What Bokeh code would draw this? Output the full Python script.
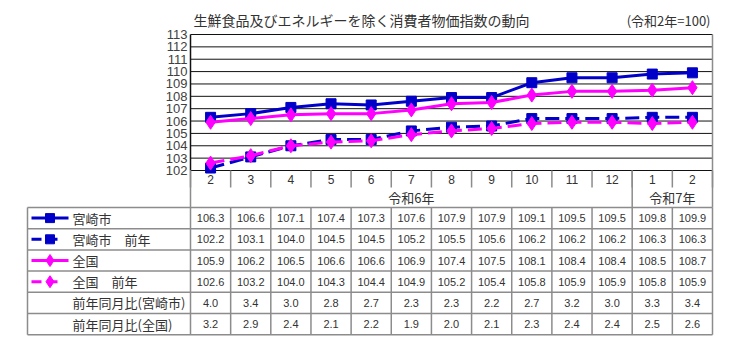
from bokeh.plotting import figure
from bokeh.models import Range1d
from bokeh.embed import file_html
from bokeh.resources import INLINE
from bokeh.core.properties import value

# ---- data ----
months = ["2", "3", "4", "5", "6", "7", "8", "9", "10", "11", "12", "1", "2"]
eras = ["令和6年", "令和7年"]
era_span = [(0, 10), (11, 12)]
miyazaki = [106.3, 106.6, 107.1, 107.4, 107.3, 107.6, 107.9, 107.9, 109.1, 109.5, 109.5, 109.8, 109.9]
miyazaki_prev = [102.2, 103.1, 104.0, 104.5, 104.5, 105.2, 105.5, 105.6, 106.2, 106.2, 106.2, 106.3, 106.3]
national = [105.9, 106.2, 106.5, 106.6, 106.6, 106.9, 107.4, 107.5, 108.1, 108.4, 108.4, 108.5, 108.7]
national_prev = [102.6, 103.2, 104.0, 104.3, 104.4, 104.9, 105.2, 105.4, 105.8, 105.9, 105.9, 105.8, 105.9]
yoy_miyazaki = [4.0, 3.4, 3.0, 2.8, 2.7, 2.3, 2.3, 2.2, 2.7, 3.2, 3.0, 3.3, 3.4]
yoy_national = [3.2, 2.9, 2.4, 2.1, 2.2, 1.9, 2.0, 2.1, 2.3, 2.4, 2.4, 2.5, 2.6]
row_labels = ["宮崎市", "宮崎市　前年", "全国", "全国　前年", "前年同月比(宮崎市)", "前年同月比(全国)"]
title_text = "生鮮食品及びエネルギーを除く消費者物価指数の動向"
base_text = "(令和2年=100)"
y_ticks = list(range(102, 114))
y_min, y_max = 102, 113

BLUE = "#0000C8"
MAG = "#FF00FF"
GRAY = "#8c8c8c"
TXT = "#333333"
JP = value("Noto Sans CJK JP")
NUM = value("Liberation Sans")

n = len(months)
xs = list(range(n))

# ---- geometry (figure pixels) ----
W, H = 721, 351
CL, CR, CT, CB = 190, 712, 34, 170      # chart area
colw = (CR - CL) / n
ppu = (CB - CT) / (y_max - y_min)


def cx(px):
    return -0.5 + (px - CL) / colw


def cy(py):
    return y_max - (py - CT) / ppu


p = figure(width=W, height=H, output_backend="svg", toolbar_location=None,
           x_range=Range1d(cx(0), cx(W)), y_range=Range1d(cy(H), cy(0)),
           min_border=0, min_border_left=0, min_border_right=0,
           min_border_top=0, min_border_bottom=0)
p.axis.visible = False
p.grid.grid_line_color = None
p.outline_line_color = None
p.background_fill_color = "white"
p.border_fill_color = "white"

x_left_edge, x_right_edge = -0.5, n - 0.5

# ---- chart frame & grid ----
p.segment(x0=[x_left_edge] * len(y_ticks), y0=y_ticks, x1=[x_right_edge] * len(y_ticks),
          y1=y_ticks, line_color="#111111", line_width=1)
p.segment(x0=[x_right_edge], y0=[y_min], x1=[x_right_edge], y1=[y_max],
          line_color=GRAY, line_width=1.5)
p.segment(x0=[x_left_edge], y0=[y_min], x1=[x_left_edge], y1=[y_max],
          line_color="#111111", line_width=1.5)
p.text(x=[cx(187)] * len(y_ticks), y=y_ticks, text=[str(t) for t in y_ticks],
       text_font=NUM, text_font_size="13px", text_color="#404040",
       text_align="right", text_baseline="middle")

# ---- series ----
p.line(xs, miyazaki_prev, line_color=BLUE, line_width=3, line_dash="14 6")
p.scatter(xs, miyazaki_prev, marker="square", size=10, fill_color=BLUE, line_color=BLUE)
p.line(xs, national_prev, line_color=MAG, line_width=3, line_dash="14 6")
p.scatter(xs, national_prev, marker="diamond", size=14, fill_color=MAG, line_color=MAG)
p.line(xs, miyazaki, line_color=BLUE, line_width=3)
p.scatter(xs, miyazaki, marker="square", size=10, fill_color=BLUE, line_color=BLUE)
p.line(xs, national, line_color=MAG, line_width=3)
p.scatter(xs, national, marker="diamond", size=14, fill_color=MAG, line_color=MAG)

# ---- titles ----
p.text(x=[cx(193)], y=[cy(19.5)], text=[title_text], text_font=JP, text_font_size="14px",
       text_color=TXT, text_align="left", text_baseline="middle")
p.text(x=[cx(710)], y=[cy(20)], text=[base_text], text_font=JP, text_font_size="13px",
       text_color=TXT, text_align="right", text_baseline="middle")

# ---- category axis area ----
edges = [i - 0.5 for i in range(n + 1)]
p.segment(x0=edges, y0=[cy(CB)] * len(edges), x1=edges, y1=[cy(CB + 17)] * len(edges),
          line_color=GRAY, line_width=1.5)
top = 207
full = [edges[0], edges[era_span[1][0]], edges[-1]]
p.segment(x0=full, y0=[cy(CB)] * 3, x1=full, y1=[cy(top)] * 3, line_color=GRAY, line_width=1.5)
p.text(x=xs, y=[cy(178.5)] * n, text=months, text_font=NUM, text_font_size="12px",
       text_color=TXT, text_align="center", text_baseline="middle")
p.text(x=[(a + b) / 2 for a, b in era_span], y=[cy(197)] * len(eras), text=eras,
       text_font=JP, text_font_size="13px", text_color=TXT,
       text_align="center", text_baseline="middle")

# ---- table ----
rh = 21.2
nrows = len(row_labels)
bottom = top + rh * nrows
left = cx(27)
vx = edges + [left]
p.segment(x0=vx, y0=[cy(top)] * len(vx), x1=vx, y1=[cy(bottom)] * len(vx),
          line_color=GRAY, line_width=1.5)
hy = [cy(top + rh * i) for i in range(nrows + 1)]
p.segment(x0=[left] * len(hy), y0=hy, x1=[edges[-1]] * len(hy), y1=hy,
          line_color=GRAY, line_width=1.5)

rows = [miyazaki, miyazaki_prev, national, national_prev, yoy_miyazaki, yoy_national]
for r, vals in enumerate(rows):
    yc = cy(top + rh * (r + 0.5))
    p.text(x=xs, y=[yc] * n, text=[f"{v:.1f}" for v in vals], text_font=NUM,
           text_font_size="11px", text_color=TXT, text_align="center",
           text_baseline="middle")
    p.text(x=[cx(72)], y=[yc], text=[row_labels[r]], text_font=JP, text_font_size="13px",
           text_color=TXT, text_align="left", text_baseline="middle")

# ---- legend keys ----
ly = [cy(top + rh * (r + 0.5)) for r in range(4)]
k0, k1, km, kd = cx(31), cx(68), cx(49.5), cx(60)
p.segment(x0=[k0], y0=[ly[0]], x1=[k1], y1=[ly[0]], line_color=BLUE, line_width=3)
p.scatter([km], [ly[0]], marker="square", size=9, fill_color=BLUE, line_color=BLUE)
p.segment(x0=[k0], y0=[ly[1]], x1=[kd], y1=[ly[1]], line_color=BLUE, line_width=3,
          line_dash="10 6")
p.scatter([km], [ly[1]], marker="square", size=9, fill_color=BLUE, line_color=BLUE)
p.segment(x0=[k0], y0=[ly[2]], x1=[k1], y1=[ly[2]], line_color=MAG, line_width=3)
p.scatter([km], [ly[2]], marker="diamond", size=12, fill_color=MAG, line_color=MAG)
p.segment(x0=[k0], y0=[ly[3]], x1=[kd], y1=[ly[3]], line_color=MAG, line_width=3,
          line_dash="10 6")
p.scatter([km], [ly[3]], marker="diamond", size=12, fill_color=MAG, line_color=MAG)

open("out.html", "w").write(file_html(p, INLINE))
